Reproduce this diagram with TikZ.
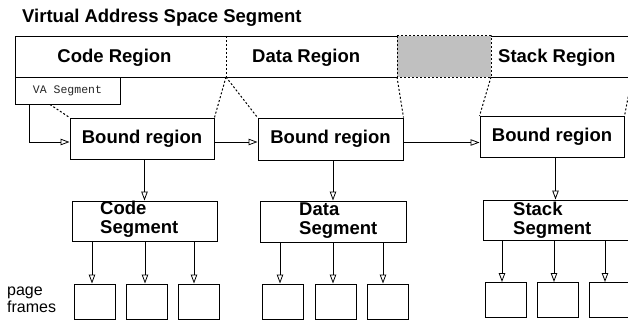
\documentclass[tikz,border=0pt]{standalone}
\usepackage{fontspec}
\setmainfont{Liberation Sans}
\setmonofont{Liberation Mono}
\usetikzlibrary{arrows.meta}
\definecolor{shade}{RGB}{192,192,192}
\begin{document}
\begin{tikzpicture}[x=1pt,y=-1pt,
  box/.style={draw=black, line width=1pt, inner sep=0pt},
  big/.style={font=\fontsize{18.5}{19}\selectfont\bfseries, inner sep=0pt},
  bound/.style={box, big, minimum width=144pt, minimum height=41pt},
  seg/.style={box, minimum width=145pt, minimum height=40pt},
  seglabel/.style={big, align=left, anchor=west},
  frame/.style={box, minimum width=41pt, minimum height=35pt},
  arr/.style={line width=1pt, -{Triangle[open, length=9pt, width=6.5pt, line width=0.8pt]}},
  dots/.style={line width=1pt, dash pattern=on 2pt off 2pt},
  barline/.style={line width=0.9pt},
]
\useasboundingbox (0,0) rectangle (628,321);
\clip (0,0) rectangle (628,321);

% title
\node[big, anchor=base west] (title) at (22,22.7) {Virtual Address Space Segment};

% address space bar
\draw[barline] (397,36) -- (15,36) -- (15,77) -- (397,77);
\draw[barline] (491,36) -- (640,36);
\draw[barline] (491,77) -- (640,77);
\draw[dots, fill=shade] (397,36) rectangle (491,77);
\draw[dots] (226,36) -- (226,77);

\node[big, anchor=base] (coderegion) at (114.5,62.7) {Code Region};
\node[big, anchor=base west] (dataregion) at (252,62.7) {Data Region};
\node[big, anchor=base west] (stackregion) at (498,62.7) {Stack Region};

\coordinate (s1) at (226,77);
\coordinate (g1) at (397,77);
\coordinate (g2) at (491,77);
\coordinate (s4) at (632,77);

% VA segment box
\node[box, minimum width=105pt, minimum height=27pt,
      font=\fontsize{11.5}{12}\selectfont\ttfamily, text=black!85] (va) at (67.5,90.5) {VA Segment};

% bound regions
\node[bound] (b1) at (142,138.5) {Bound region};
\node[bound, minimum width=145pt, minimum height=42pt] (b2) at (330.5,139) {Bound region};
\node[bound] (b3) at (552,137) {Bound region};

% segments
\node[seg] (cs) at (144.5,221) {};
\node[seg, minimum width=146pt, minimum height=41pt] (ds) at (333,221.5) {};
\node[seg] (ss) at (555.5,220) {};
\node[seglabel] (csl) at (100,219) {Code\\Segment};
\node[seglabel] (dsl) at (299,221) {Data\\Segment};
\node[seglabel] (ssl) at (513,220) {Stack\\Segment};

% page frames
\node[frame] (cf1) at (94.5,301.5) {};
\node[frame] (cf2) at (147,301.5) {};
\node[frame] (cf3) at (199,301.5) {};
\node[frame] (df1) at (283,301.5) {};
\node[frame] (df2) at (335.5,301.5) {};
\node[frame] (df3) at (388,301.5) {};
\node[frame] (sf1) at (505.5,300) {};
\node[frame] (sf2) at (557.5,300) {};
\node[frame] (sf3) at (609.5,300) {};

\node[font=\fontsize{16}{17}\selectfont, align=left, anchor=west, inner sep=0pt] (pf) at (7,299.4) {page\\frames};

% connectors
\draw[arr] (va.south -| 29,0) |- (b1.west |- 0,142);
\draw[arr] (b1.east |- 0,142) -- (b2.west |- 0,142);
\draw[arr] (b2.east |- 0,142.5) -- (b3.west |- 0,142.5);

\draw[arr] (cs.north |- b1.south) -- (cs.north);
\draw[arr] (ds.north |- b2.south) -- (ds.north);
\draw[arr] (ss.north |- b3.south) -- (ss.north);

\draw[arr] ([xshift=-2.5pt]cf1.north |- cs.south) -- ([xshift=-2.5pt]cf1.north);
\draw[arr] ([xshift=-2pt]cf2.north |- cs.south) -- ([xshift=-2pt]cf2.north);
\draw[arr] ([xshift=-5pt]cf3.north |- cs.south) -- ([xshift=-5pt]cf3.north);
\draw[arr] ([xshift=-3pt]df1.north |- ds.south) -- ([xshift=-3pt]df1.north);
\draw[arr] ([xshift=-2.5pt]df2.north |- ds.south) -- ([xshift=-2.5pt]df2.north);
\draw[arr] ([xshift=-5pt]df3.north |- ds.south) -- ([xshift=-5pt]df3.north);
\draw[arr] ([xshift=-3.5pt]sf1.north |- ss.south) -- ([xshift=-3.5pt]sf1.north);
\draw[arr] ([xshift=-3.5pt]sf2.north |- ss.south) -- ([xshift=-3.5pt]sf2.north);
\draw[arr] ([xshift=-4.5pt]sf3.north |- ss.south) -- ([xshift=-4.5pt]sf3.north);

% dotted mapping lines
\draw[dots] (va.south -| 50,0) -- (b1.north west);
\draw[dots] (s1) -- (b1.north east);
\draw[dots] (s1) -- (b2.north west);
\draw[dots] (g1) -- (b2.north east);
\draw[dots] (g2) -- (b3.north west);
\draw[dots] (s4) -- (b3.north east);
\end{tikzpicture}
\end{document}
